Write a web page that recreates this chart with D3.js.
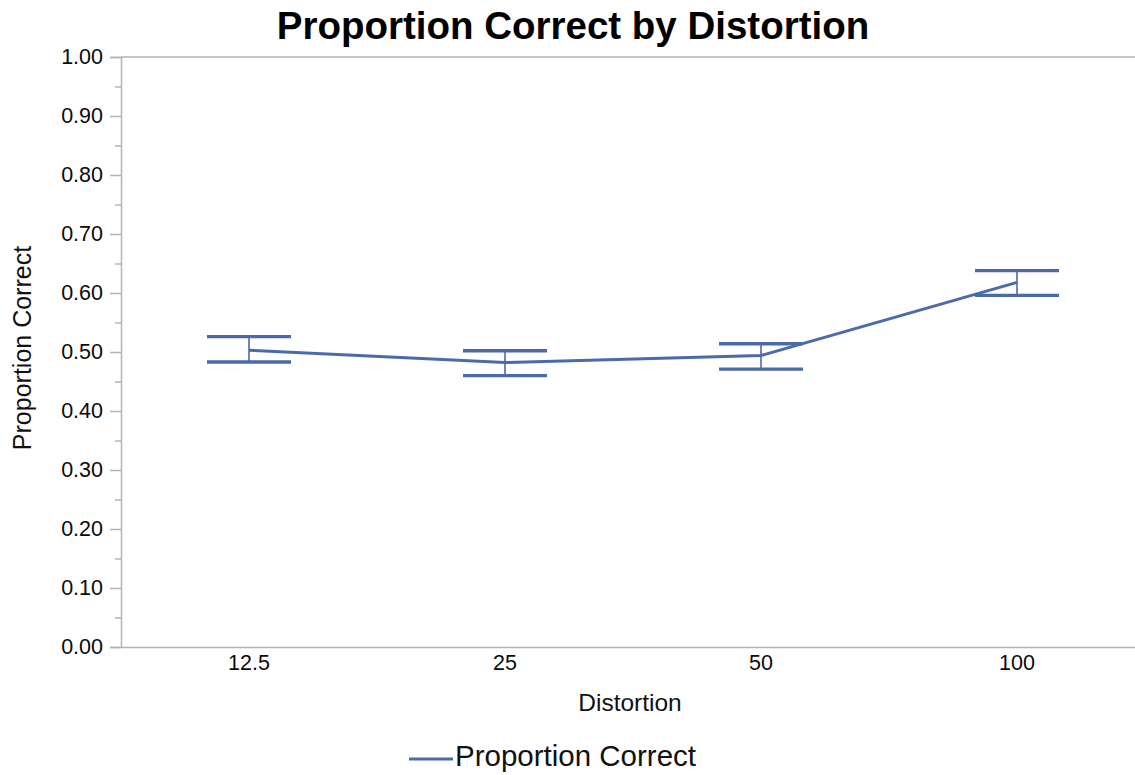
<!DOCTYPE html>
<html><head><meta charset="utf-8">
<script src="https://cdn.jsdelivr.net/npm/d3@7"></script>
<style>body{margin:0;background:#fff;}svg{display:block;font-family:"Liberation Sans",Arial,sans-serif;}</style>
</head><body>
<svg id="c" width="1135" height="775"></svg>
<script>
const categories = ["12.5", "25", "50", "100"];
const means = [0.503, 0.482, 0.494, 0.618];
const upper = [0.526, 0.502, 0.514, 0.638];
const lower = [0.483, 0.460, 0.471, 0.596];
const yTicks = [0, 0.1, 0.2, 0.3, 0.4, 0.5, 0.6, 0.7, 0.8, 0.9, 1.0];
const yMinorTicks = [0.05, 0.15, 0.25, 0.35, 0.45, 0.55, 0.65, 0.75, 0.85, 0.95];

(function () {
const svg = d3.select("#c");
const color = "#4a6aab";
const axisColor = "#b3b3b3";
const pLeft = 121, pRight = 1145, pTop = 57, pBottom = 647;

const x = d3.scaleBand().domain(categories).range([pLeft, pRight]);
const y = d3.scaleLinear().domain([0, 1]).range([pBottom, pTop]);

// top border
svg.append("line").attr("x1", pLeft).attr("x2", 1135).attr("y1", pTop).attr("y2", pTop)
  .attr("stroke", axisColor).attr("stroke-width", 1.5);

// y axis
const yAxis = d3.axisLeft(y).tickValues(yTicks).tickFormat(d3.format(".2f")).tickSize(11).tickPadding(7);
const gy = svg.append("g").attr("transform", `translate(${pLeft},0)`).call(yAxis);
gy.select(".domain").attr("stroke", axisColor).attr("stroke-width", 1.5);
gy.selectAll(".tick line").attr("stroke", axisColor).attr("stroke-width", 1.5);
gy.selectAll(".tick text").attr("font-size", 21.5).attr("fill", "#0a0a0a").attr("font-family", "Liberation Sans, Arial, sans-serif");
const gym = svg.append("g").attr("transform", `translate(${pLeft},0)`)
  .call(d3.axisLeft(y).tickValues(yMinorTicks).tickSize(6).tickFormat(""));
gym.select(".domain").remove();
gym.selectAll(".tick line").attr("stroke", axisColor).attr("stroke-width", 1.5);

// x axis
const gx = svg.append("g").attr("transform", `translate(0,${pBottom})`)
  .call(d3.axisBottom(x).tickSize(0).tickPadding(8).tickSizeOuter(0));
gx.select(".domain").attr("stroke", axisColor).attr("stroke-width", 1.5);
gx.selectAll(".tick text").attr("font-size", 21.5).attr("fill", "#0a0a0a").attr("font-family", "Liberation Sans, Arial, sans-serif");

// error bars
const cx = d => x(d) + x.bandwidth() / 2;
const capHalf = 42;
categories.forEach((c, i) => {
  svg.append("line").attr("x1", cx(c)).attr("x2", cx(c)).attr("y1", y(upper[i])).attr("y2", y(lower[i]))
    .attr("stroke", color).attr("stroke-width", 1.6);
  [upper[i], lower[i]].forEach(v => {
    svg.append("line").attr("x1", cx(c) - capHalf).attr("x2", cx(c) + capHalf).attr("y1", y(v)).attr("y2", y(v))
      .attr("stroke", color).attr("stroke-width", 3.4);
  });
});

// mean line
const line = d3.line().x((d, i) => cx(categories[i])).y(d => y(d));
svg.append("path").datum(means).attr("d", line).attr("fill", "none")
  .attr("stroke", color).attr("stroke-width", 3);

// title
svg.append("text").attr("x", 573).attr("y", 39).attr("text-anchor", "middle")
  .attr("font-size", 38.5).attr("font-weight", "bold").attr("fill", "#000")
  .text("Proportion Correct by Distortion");

// axis titles
svg.append("text").attr("x", 630).attr("y", 711).attr("text-anchor", "middle")
  .attr("font-size", 24.5).attr("fill", "#111").text("Distortion");
svg.append("text").attr("transform", "translate(31,348) rotate(-90)").attr("text-anchor", "middle")
  .attr("font-size", 25).attr("fill", "#111").text("Proportion Correct");

// legend
svg.append("line").attr("x1", 409).attr("x2", 453).attr("y1", 759).attr("y2", 759)
  .attr("stroke", color).attr("stroke-width", 3);
svg.append("text").attr("x", 455).attr("y", 766).attr("font-size", 29.5).attr("fill", "#111")
  .text("Proportion Correct");
})();
</script>
</body></html>
